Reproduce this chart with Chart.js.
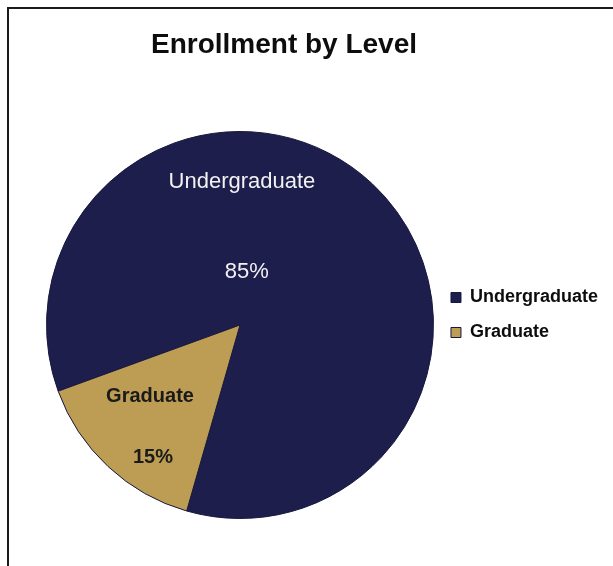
<!DOCTYPE html>
<html>
<head>
<meta charset="utf-8">
<title>Enrollment by Level</title>
<script src="https://cdn.jsdelivr.net/npm/chart.js@4.4.1/dist/chart.umd.min.js"></script>
<style>
  html, body { margin: 0; padding: 0; background: #fff; }
  canvas { display: block; }
</style>
</head>
<body>
<canvas id="enrollChart" width="613" height="566"></canvas>
<script>
// enrollment shares by level (percent)
const levels = ["Undergraduate", "Graduate"];
const shares = [85, 15];
const sliceColors = ["#1d1e4b", "#bd9d54"];

// where each slice's name / percent text sits, as fractions of the radius from the pie center
const labelSpots = [
  { name: [0.01, -0.74], pct: [0.035, -0.275], color: "#f2f2f2", weight: "normal", size: 22 },
  { name: [-0.465, 0.37], pct: [-0.45, 0.685], color: "#1a1a1a", weight: "bold", size: 20 }
];

const FONT = "Arial, 'Liberation Sans', sans-serif";

// title, frame and in-slice labels
const decorPlugin = {
  id: "decor",
  afterLayout(chart) {
    // lift the legend a little above the pie's center line
    chart.legend.top -= 10;
    chart.legend.bottom -= 10;
  },
  afterDraw(chart) {
    const ctx = chart.ctx;
    ctx.save();

    // frame (open to the right and bottom)
    ctx.strokeStyle = "#1b1b1b";
    ctx.lineWidth = 2;
    ctx.beginPath();
    ctx.moveTo(8, chart.height);
    ctx.lineTo(8, 8);
    ctx.lineTo(chart.width, 8);
    ctx.stroke();

    // chart title
    ctx.fillStyle = "#0d0d0d";
    ctx.font = "bold 28px " + FONT;
    ctx.textAlign = "center";
    ctx.textBaseline = "middle";
    ctx.fillText("Enrollment by Level", 284, 45);

    // slice labels
    const meta = chart.getDatasetMeta(0);
    const total = shares.reduce((a, b) => a + b, 0);
    meta.data.forEach((arc, i) => {
      const spot = labelSpots[i];
      const r = arc.outerRadius;
      const pct = Math.round(shares[i] / total * 100) + "%";
      ctx.fillStyle = spot.color;
      ctx.font = spot.weight + " " + spot.size + "px " + FONT;
      ctx.fillText(levels[i], arc.x + spot.name[0] * r, arc.y + spot.name[1] * r);
      ctx.fillText(pct, arc.x + spot.pct[0] * r, arc.y + spot.pct[1] * r);
    });
    ctx.restore();
  }
};

new Chart(document.getElementById("enrollChart"), {
  type: "pie",
  data: {
    labels: levels,
    datasets: [{
      data: shares,
      backgroundColor: sliceColors,
      borderColor: "#17183d",
      borderWidth: 1
    }]
  },
  options: {
    responsive: false,
    animation: false,
    rotation: 250,
    layout: {
      padding: { left: 46, right: 5, top: 131, bottom: 47 }
    },
    plugins: {
      title: { display: false },
      tooltip: { enabled: false },
      legend: {
        position: "right",
        align: "center",
        labels: {
          boxWidth: 10,
          boxHeight: 10,
          padding: 17,
          color: "#0d0d0d",
          font: { family: FONT, size: 18, weight: "bold" }
        }
      }
    }
  },
  plugins: [decorPlugin]
});
</script>
</body>
</html>
